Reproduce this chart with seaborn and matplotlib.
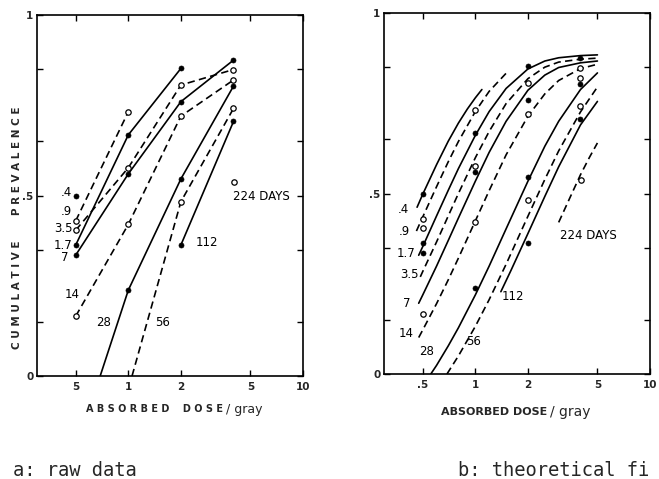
import matplotlib
matplotlib.use("Agg")
import matplotlib.pyplot as plt
import seaborn as sns
import pandas as pd
from matplotlib.ticker import FixedLocator, FixedFormatter, NullLocator

sns.set_theme(style="ticks")
plt.rcParams["font.family"] = ["DejaVu Sans"]

# ---------------- data ----------------
groups = [".4", ".9", "1.7", "3.5", "7", "14", "28", "56", "112", "224"]
line_kind = ["solid", "dashed", "solid", "dashed", "solid", "dashed", "solid", "dashed", "solid", "dashed"]
marker_filled = [True, False, True, False, True, False, True, False, True, False]

# observed prevalence (raw data); 0 values are where the raw line meets the axis
obs_dose_04 = [0.5];                   obs_prev_04 = [0.500]
obs_dose_09 = [0.5, 1.0];              obs_prev_09 = [0.430, 0.732]
obs_dose_17 = [0.5, 1.0, 2.0];         obs_prev_17 = [0.363, 0.668, 0.852]
obs_dose_35 = [0.5, 1.0, 2.0, 4.0];    obs_prev_35 = [0.404, 0.577, 0.806, 0.849]
obs_dose_7 = [0.5, 1.0, 2.0, 4.0];     obs_prev_7 = [0.335, 0.560, 0.760, 0.875]
obs_dose_14 = [0.5, 1.0, 2.0, 4.0];    obs_prev_14 = [0.166, 0.420, 0.720, 0.820]
obs_dose_28 = [0.69, 1.0, 2.0, 4.0];   obs_prev_28 = [0.0, 0.238, 0.546, 0.803]
obs_dose_56 = [1.05, 2.0, 4.0];        obs_prev_56 = [0.0, 0.483, 0.741]
obs_dose_112 = [2.0, 4.0];             obs_prev_112 = [0.363, 0.705]
obs_dose_224 = [4.05];                 obs_prev_224 = [0.538]

# theoretical fit curves
fit_dose_04 = [0.464, 0.5, 0.6, 0.7, 0.8, 0.9, 1.0, 1.09]
fit_prev_04 = [0.462, 0.498, 0.580, 0.645, 0.695, 0.734, 0.765, 0.788]
fit_dose_09 = [0.46, 0.5, 0.6, 0.7, 0.8, 1.0, 1.2, 1.52]
fit_prev_09 = [0.396, 0.435, 0.519, 0.588, 0.644, 0.727, 0.783, 0.836]
fit_dose_17 = [0.474, 0.5, 0.6, 0.7, 0.8, 1.0, 1.2, 1.5, 2.0, 2.5, 3.0, 4.0, 5.0]
fit_prev_17 = [0.329, 0.353, 0.438, 0.509, 0.569, 0.661, 0.727, 0.791, 0.845, 0.867, 0.876, 0.882, 0.884]
fit_dose_35 = [0.484, 0.5, 0.6, 0.7, 0.8, 1.0, 1.2, 1.5, 2.0, 2.5, 3.0, 4.0, 5.0]
fit_prev_35 = [0.269, 0.284, 0.366, 0.438, 0.500, 0.599, 0.672, 0.749, 0.818, 0.850, 0.864, 0.872, 0.875]
fit_dose_7 = [0.474, 0.5, 0.6, 0.7, 0.8, 1.0, 1.2, 1.5, 2.0, 2.5, 3.0, 4.0, 5.0]
fit_prev_7 = [0.196, 0.219, 0.299, 0.370, 0.432, 0.534, 0.614, 0.700, 0.786, 0.828, 0.849, 0.862, 0.867]
fit_dose_14 = [0.474, 0.5, 0.6, 0.7, 0.8, 1.0, 1.2, 1.5, 2.0, 2.5, 3.0, 4.0, 5.0]
fit_prev_14 = [0.101, 0.122, 0.195, 0.261, 0.321, 0.424, 0.508, 0.607, 0.714, 0.776, 0.813, 0.846, 0.858]
fit_dose_28 = [0.556, 0.6, 0.7, 0.8, 1.0, 1.2, 1.5, 2.0, 2.5, 3.0, 4.0, 5.0]
fit_prev_28 = [0.0, 0.024, 0.078, 0.128, 0.219, 0.299, 0.402, 0.534, 0.631, 0.700, 0.788, 0.834]
fit_dose_56 = [0.688, 0.8, 1.0, 1.2, 1.5, 2.0, 2.5, 3.0, 4.0, 5.0]
fit_prev_56 = [0.0, 0.050, 0.132, 0.206, 0.304, 0.437, 0.539, 0.618, 0.726, 0.795]
fit_dose_112 = [1.4, 1.6, 2.0, 2.5, 3.0, 4.0, 5.0]
fit_prev_112 = [0.228, 0.287, 0.389, 0.492, 0.574, 0.690, 0.755]
fit_dose_224 = [3.0, 3.5, 4.0, 4.5, 5.0]
fit_prev_224 = [0.420, 0.491, 0.552, 0.600, 0.640]

# label anchor points (dose, prevalence) per panel
label_text = [".4", ".9", "3.5", "1.7", "7", "14", "28", "56", "112", "224 DAYS"]
raw_label_dose = [0.444, 0.444, 0.423, 0.423, 0.434, 0.475, 0.721, 1.574, 2.81, 5.78]
raw_label_prev = [0.507, 0.456, 0.408, 0.362, 0.328, 0.225, 0.148, 0.148, 0.370, 0.498]
fit_label_text = [".4", ".9", "1.7", "3.5", "7", "14", "28", "56", "112", "224 DAYS"]
fit_label_dose = [0.388, 0.394, 0.400, 0.417, 0.405, 0.400, 0.526, 0.978, 1.639, 4.415]
fit_label_prev = [0.457, 0.395, 0.335, 0.275, 0.194, 0.113, 0.062, 0.090, 0.214, 0.385]

x_ticks = [0.5, 1, 2, 5, 10]
x_ticklabels_a = ["5", "1", "2", "5", "10"]
x_ticklabels_b = [".5", "1", "2", "5", "10"]
y_ticks = [0, 0.15, 0.35, 0.5, 0.65, 0.85, 1]
y_ticklabels = ["0", "", "", ".5", "", "", "1"]

# ---------------- tables ----------------
obs_d = [obs_dose_04, obs_dose_09, obs_dose_17, obs_dose_35, obs_dose_7,
         obs_dose_14, obs_dose_28, obs_dose_56, obs_dose_112, obs_dose_224]
obs_p = [obs_prev_04, obs_prev_09, obs_prev_17, obs_prev_35, obs_prev_7,
         obs_prev_14, obs_prev_28, obs_prev_56, obs_prev_112, obs_prev_224]
fit_d = [fit_dose_04, fit_dose_09, fit_dose_17, fit_dose_35, fit_dose_7,
         fit_dose_14, fit_dose_28, fit_dose_56, fit_dose_112, fit_dose_224]
fit_p = [fit_prev_04, fit_prev_09, fit_prev_17, fit_prev_35, fit_prev_7,
         fit_prev_14, fit_prev_28, fit_prev_56, fit_prev_112, fit_prev_224]

def make_df(ds, ps):
    rows = []
    for g, k, f, d, p in zip(groups, line_kind, marker_filled, ds, ps):
        for di, pi in zip(d, p):
            rows.append({"group": g, "kind": k, "filled": f, "dose": di, "prev": pi})
    return pd.DataFrame(rows)

obs = make_df(obs_d, obs_p)
fit = make_df(fit_d, fit_p)

# ---------------- figure ----------------
W, H = 659, 479
fig = plt.figure(figsize=(W / 100, H / 100), dpi=100)
fig.patch.set_facecolor("white")

def ax_rect(x0, y0, x1, y1):
    return [x0 / W, 1 - y1 / H, (x1 - x0) / W, (y1 - y0) / H]

axA = fig.add_axes(ax_rect(37, 15, 303, 376))
axB = fig.add_axes(ax_rect(384, 13, 650, 374))

dash_map = {"solid": "", "dashed": (4.4, 2.6)}
LW = 1.2

def draw_points(ax):
    pts = obs[obs["prev"] > 0]
    sns.scatterplot(data=pts[pts["filled"]], x="dose", y="prev", ax=ax,
                    color="black", s=13, edgecolor="black", linewidth=0.5,
                    legend=False, zorder=4)
    sns.scatterplot(data=pts[~pts["filled"]], x="dose", y="prev", ax=ax,
                    facecolor="white", s=15, edgecolor="black", linewidth=0.9,
                    legend=False, zorder=4)

def style_axes(ax, xticklabels):
    ax.set_xscale("log")
    ax.set_xlim(0.3, 10)
    ax.set_ylim(0, 1)
    ax.xaxis.set_major_locator(FixedLocator(x_ticks))
    ax.xaxis.set_major_formatter(FixedFormatter(xticklabels))
    ax.xaxis.set_minor_locator(NullLocator())
    ax.yaxis.set_major_locator(FixedLocator(y_ticks))
    ax.yaxis.set_major_formatter(FixedFormatter(y_ticklabels))
    ax.tick_params(axis="both", which="major", direction="in", length=4.5,
                   width=1.0, color="black", labelsize=7.5, top=True, right=True)
    ax.tick_params(axis="x", pad=4)
    ax.tick_params(axis="y", pad=2.5)
    for lab in ax.get_xticklabels() + ax.get_yticklabels():
        lab.set_fontweight("bold")
    for sp in ax.spines.values():
        sp.set_linewidth(1.2)
        sp.set_color("black")
    ax.set_xlabel("")
    ax.set_ylabel("")
    ax.set_facecolor("white")
    ax.grid(False)

# panel a: raw data
sns.lineplot(data=obs, x="dose", y="prev", units="group", estimator=None,
             style="kind", dashes=dash_map, color="black", lw=LW,
             sort=False, legend=False, ax=axA)
draw_points(axA)
style_axes(axA, x_ticklabels_a)
for t, d, p in zip(label_text, raw_label_dose, raw_label_prev):
    axA.text(d, p, t, fontsize=8.5, ha="center", va="center", color="black")

# panel b: theoretical fit
sns.lineplot(data=fit, x="dose", y="prev", units="group", estimator=None,
             style="kind", dashes=dash_map, color="black", lw=LW,
             sort=False, legend=False, ax=axB)
draw_points(axB)
style_axes(axB, x_ticklabels_b)
for t, d, p in zip(fit_label_text, fit_label_dose, fit_label_prev):
    axB.text(d, p, t, fontsize=8.5, ha="center", va="center", color="black")

def ftxt(x, y, s, **kw):
    fig.text(x / W, 1 - y / H, s, **kw)

spaced = lambda w: " ".join(w)

# axis titles
ftxt(17, 228, spaced("CUMULATIVE") + "       " + spaced("PREVALENCE"),
     rotation=90, fontsize=7.5, fontweight="bold", ha="center", va="center")
ftxt(223, 409, spaced("ABSORBED") + "    " + spaced("DOSE"),
     fontsize=7, fontweight="bold", ha="right", va="center")
ftxt(226, 409, "/ gray", fontsize=9, ha="left", va="center")
ftxt(547, 412, "ABSORBED DOSE", fontsize=8, fontweight="bold", ha="right", va="center")
ftxt(550, 412, "/ gray", fontsize=10, ha="left", va="center")

# captions
ftxt(13, 476, "a: raw data", family="DejaVu Sans Mono", fontsize=13.5, va="baseline")
ftxt(458, 476, "b: theoretical fi", family="DejaVu Sans Mono", fontsize=13.5, va="baseline")

fig.savefig("out.png", dpi=100, facecolor="white")
